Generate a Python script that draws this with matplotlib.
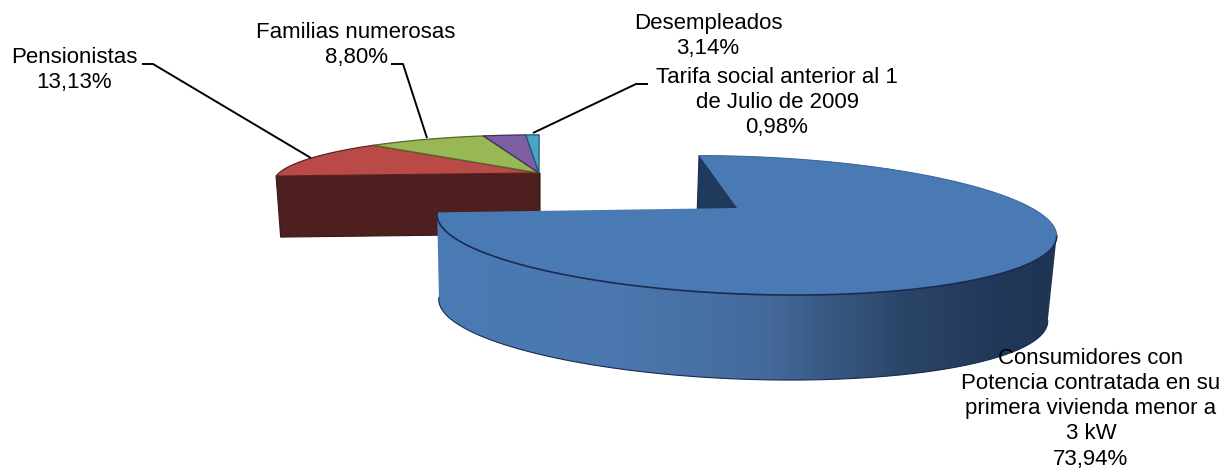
import numpy as np
import matplotlib
matplotlib.use("Agg")
import matplotlib.pyplot as plt
from matplotlib.colors import LinearSegmentedColormap
from matplotlib.patches import Polygon

categories = ["Consumidores con\nPotencia contratada en su\nprimera vivienda menor a\n3 kW",
              "Pensionistas", "Familias numerosas", "Desempleados",
              "Tarifa social anterior al 1\nde Julio de 2009"]
values = [73.94, 13.13, 8.80, 3.14, 0.98]
top_colors = ["#4a7ab4", "#b94a48", "#98b856", "#7f5fa4", "#4aa3c2"]
edge_colors = ["#1a2a50", "#5a2422", "#56652c", "#3f2f55", "#1f5a78"]

label_xy = [(1091, 358), (74, 57), (356, 32), (708, 23), (777, 77)]
leaders = {1: [(142, 64), (153, 64), (311, 158)],
           2: [(391, 64), (403, 64), (427, 138)],
           4: [(648, 84), (636, 84), (533, 133)]}

plt.rcParams["font.family"] = ["Liberation Sans", "DejaVu Sans"]
fig = plt.figure(figsize=(12.22, 4.70), dpi=100)
ax = fig.add_axes([0, 0, 1, 1])
ax.set_axis_off()

VY = -56.0                  # horizon of the pie plane
TILT_K = 0.0174             # sides lean toward the middle
TILT_X = 540.0


def project(theta, cx, cy, a, g, vx):
    """Project an angle on a disc (clockwise from the back) to the picture."""
    u, v = np.sin(theta), np.cos(theta)
    s = 1.0 / (1.0 + g * v)
    return vx + (cx - vx + a * u) * s, VY + (cy - VY) * s


def lowered(x, y, depth):
    return x + (TILT_X - x) * TILT_K, y + depth


edges = np.r_[0, np.cumsum(values)] / np.sum(values) * 2 * np.pi

# small, exploded group
SCX, SCY, SA, SG, SD, SV = 539.0, 173.0, 260.0, 0.20, 61.0, 540.0
lx, ly = project(edges[1], SCX, SCY, SA, SG, SV)
blx, bly = lowered(lx, ly, SD)
brx, bry = lowered(SCX, SCY, SD)
ax.fill([lx, SCX + 1, brx + 1, blx], [ly, SCY, bry, bly], color="#4e1f1f", ec="#3a1414", lw=0.8, zorder=1)
for i in range(1, len(values)):
    t = np.linspace(edges[i], edges[i + 1], 200)
    x, y = project(t, SCX, SCY, SA, SG, SV)
    ax.fill(np.r_[SCX, x, SCX], np.r_[SCY, y, SCY], fc=top_colors[i], ec=edge_colors[i], lw=0.9, zorder=2)

# large slice
BAX, BAY = 737.0, 208.0     # apex of the cut
BCX, BCY, BA, BG, BD, BV = 735.0, 208.0, 296.6, 0.248, 85.0, 554.0
t = np.linspace(edges[0], edges[1], 500)
rx, ry = project(t, BCX, BCY, BA, BG, BV)
i_max = int(np.argmax(rx))
wx, wy = rx[i_max:], ry[i_max:]
bx, by = lowered(wx, wy, BD)
wall_xy = np.c_[np.r_[wx, bx[::-1]], np.r_[wy, by[::-1]]]
wall = Polygon(wall_xy, closed=True, fc="none", ec="none", zorder=3)
ax.add_patch(wall)
cmap = LinearSegmentedColormap.from_list(
    "wall", [(0.0, "#4a7bb5"), (0.3, "#4a77ad"), (0.53, "#446a9b"),
             (0.75, "#2b4568"), (0.9, "#21385a"), (1.0, "#1f3553")])
img = ax.imshow(np.linspace(0, 1, 400)[None, :], extent=(437, 1058, 400, 200),
                cmap=cmap, aspect="auto", zorder=3)
img.set_clip_path(wall)
ax.plot(bx, by, color="#1a2a50", lw=0.8, zorder=3)

# cut face of the large slice
sx, sy = rx[0], ry[0]
sbx, sby = lowered(sx, sy, BD)
abx, aby = lowered(BAX, BAY, BD)
ax.fill([sx, BAX, abx, sbx], [sy, BAY, aby, sby], color="#1f3a5c", ec="#1a2a50", lw=0.8, zorder=4)

ax.fill(np.r_[BAX, rx, BAX], np.r_[BAY, ry, BAY], fc=top_colors[0], ec="none", zorder=5)
ax.plot(wx, wy, color=edge_colors[0], lw=1.2, zorder=6)
ax.plot(rx[:i_max + 1], ry[:i_max + 1], color="#3a6398", lw=0.7, zorder=6)

# leaders and labels
for pts in leaders.values():
    p = np.array(pts)
    ax.plot(p[:, 0], p[:, 1], color="black", lw=1.4, zorder=7, solid_capstyle="butt")
for cat, val, (lxp, lyp) in zip(categories, values, label_xy):
    txt = f"{cat}\n{val:.2f}%".replace(".", ",")
    ax.text(lxp, lyp - 10, txt, ha="center", va="top", ma="center", fontsize=16,
            linespacing=1.26, color="black", zorder=8)

ax.set_xlim(0, 1222)
ax.set_ylim(470, 0)
fig.savefig("out.png", dpi=100, facecolor="white")
